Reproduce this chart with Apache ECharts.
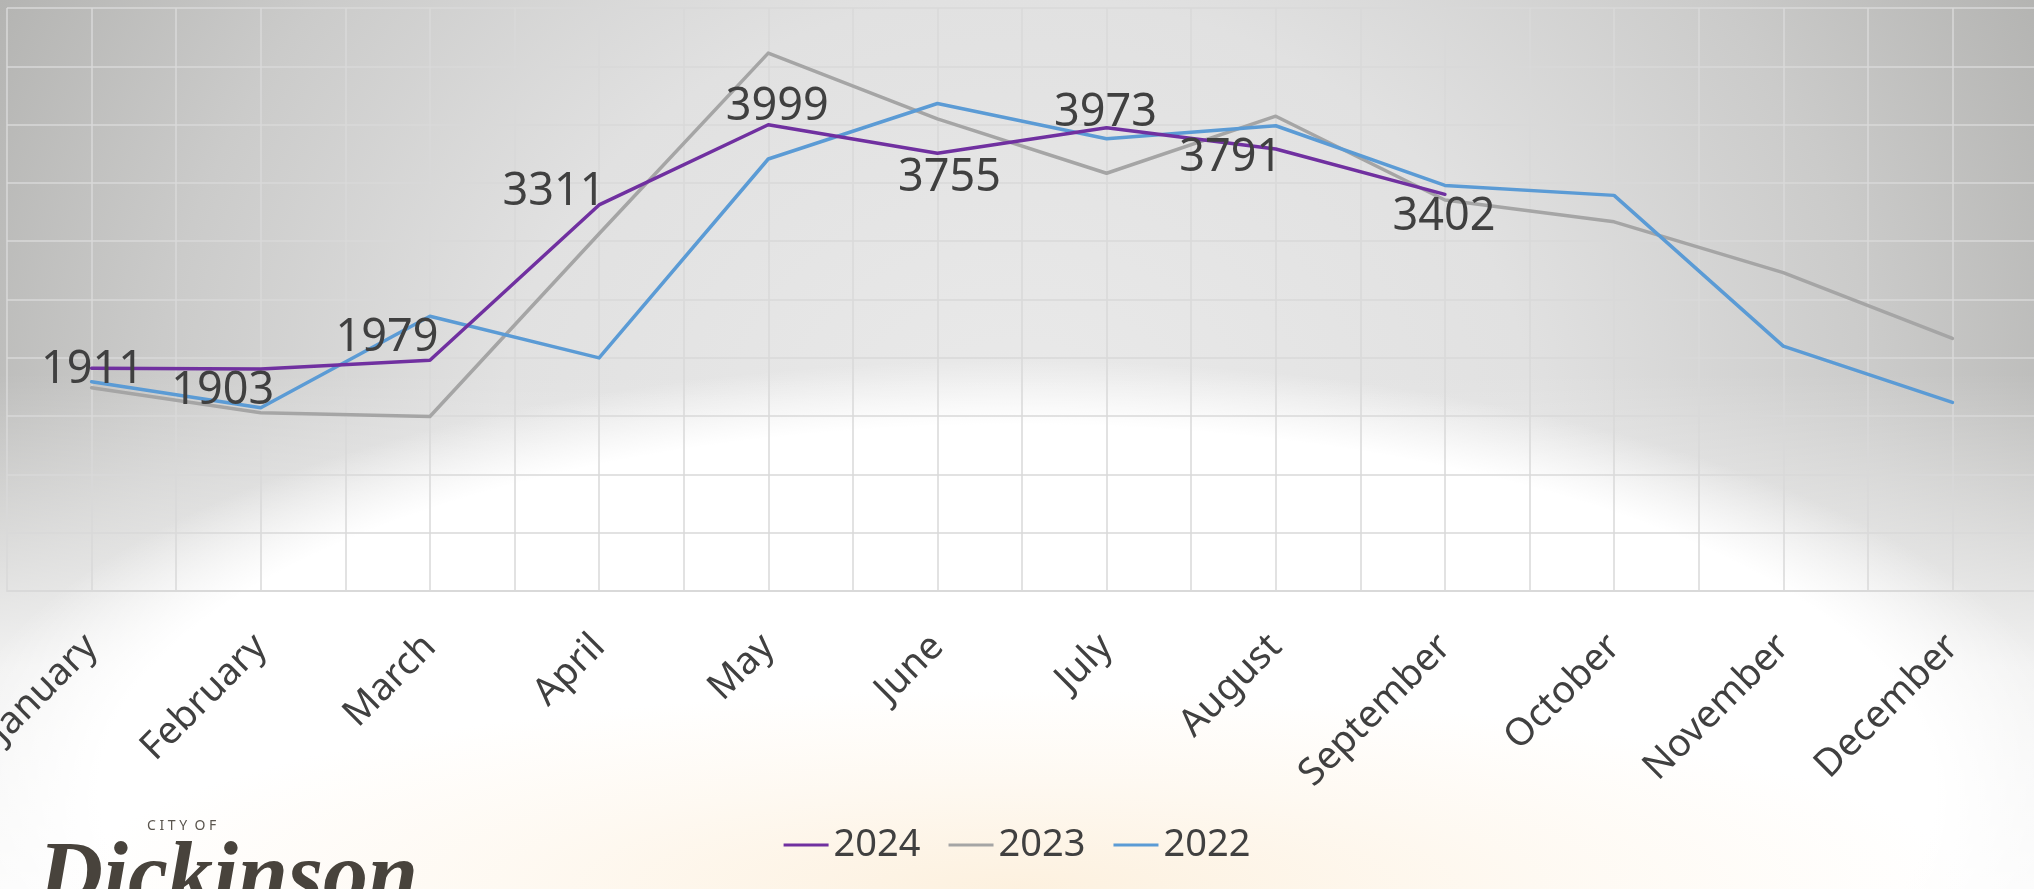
<!DOCTYPE html>
<html>
<head>
<meta charset="utf-8">
<script src="https://cdn.jsdelivr.net/npm/echarts@6/dist/echarts.min.js"></script>
<style>
html, body { margin:0; padding:0; }
body {
  width:2034px; height:889px; overflow:hidden;
  background:
    radial-gradient(ellipse 950px 200px at 50% 100%, rgba(252,236,212,0.75) 0%, rgba(253,242,226,0.45) 55%, rgba(255,250,242,0) 100%),
    radial-gradient(ellipse 1080px 430px at 50% 790px, #ffffff 0%, #ffffff 85%, rgba(255,255,255,0) 100%),
    linear-gradient(to bottom, rgba(255,255,255,0) 0%, rgba(255,255,255,0) 42%, rgba(255,255,255,0.8) 75%, rgba(255,255,255,0.95) 100%),
    radial-gradient(ellipse 1150px 1000px at 50% 50%, #eaeaea 0%, #e1e1e1 45%, #cbcbca 75%, #b3b3b1 100%);
}
#chart { position:absolute; left:0; top:0; width:2034px; height:889px; }
</style>
</head>
<body>
<div id="chart"></div>
<script>
const months = ['January','February','March','April','May','June','July','August','September','October','November','December'];
const seriesNames = ['2024','2023','2022'];
const values2024 = [1911, 1903, 1979, 3311, 3999, 3755, 3973, 3791, 3402];
const values2023 = [1743, 1529, 1497, 3064, 4613, 4049, 3583, 4072, 3353, 3166, 2730, 2166];
const values2022 = [1795, 1572, 2356, 1999, 3705, 4181, 3879, 3990, 3478, 3393, 2100, 1618];

// label placement (style only)
const labelOffsets2024 = [[1,2],[-38,22],[-43,-22],[-45,-13],[9,-18],[12,25],[-1,-15],[-45,9],[-1,23]];

const FONT = 'Noto Sans';
const TEXT = '#404040';
const GRID = '#d9d9d9';

const chart = echarts.init(document.getElementById('chart'), null, {renderer:'canvas'});

const baseLine = (name, data, color, z) => ({
  name, type:'line', data, xAxisIndex:0, yAxisIndex:0,
  symbol:'circle', symbolSize:0.1, showSymbol:true,
  lineStyle:{ color, width:3.5, cap:'round', join:'round' },
  itemStyle:{ color },
  emphasis:{ disabled:true },
  z
});

const s24 = baseLine(seriesNames[0], values2024.map((v,i)=>({
  value:v,
  label:{ offset: labelOffsets2024[i] }
})), '#7030A0', 3);
s24.label = { show:true, position:'inside', color:TEXT, fontFamily:FONT, fontSize:45 };

chart.setOption({
  backgroundColor:'transparent',
  animation:false,
  grid:{ left:7, right:-3, top:8, bottom:298, containLabel:false, outerBoundsMode:'none' },
  legend:{
    data: seriesNames,
    bottom: 20, left:'center',
    icon:'rect', itemWidth:45, itemHeight:3, itemGap:28,
    textStyle:{ color:TEXT, fontFamily:FONT, fontSize:38 }
  },
  xAxis:[
    {
      type:'category', data: months, boundaryGap:true,
      axisLine:{ show:true, lineStyle:{ color:GRID, width:2 } },
      axisTick:{ show:false },
      splitLine:{ show:false },
      axisLabel:{ rotate:45, margin:50, color:TEXT, fontFamily:FONT, fontSize:38, interval:0, hideOverlap:false }
    },
    {
      type:'value', min:0, max:24, interval:1, position:'bottom',
      axisLine:{ show:false }, axisTick:{ show:false }, axisLabel:{ show:false },
      splitLine:{ show:true, lineStyle:{ color:GRID, width:1.5 } }
    }
  ],
  yAxis:{
    type:'value', min:0, max:5000, interval:500,
    axisLine:{ show:false }, axisTick:{ show:false }, axisLabel:{ show:false },
    splitLine:{ show:true, lineStyle:{ color:GRID, width:1.5 } }
  },
  series:[
    s24,
    baseLine(seriesNames[1], values2023, '#A5A5A5', 2),
    baseLine(seriesNames[2], values2022, '#5B9BD5', 2)
  ],
  graphic:[
    { type:'text', left:147, top:819, style:{ text:'C I T Y  O F', fill:'#5a554e', font:'14px "Noto Sans"' } },
    { type:'text', left:38, top:836, style:{ text:'Dickinson', fill:'#48433c', font:'italic bold 90px "Liberation Serif"' } }
  ]
});
</script>
</body>
</html>
